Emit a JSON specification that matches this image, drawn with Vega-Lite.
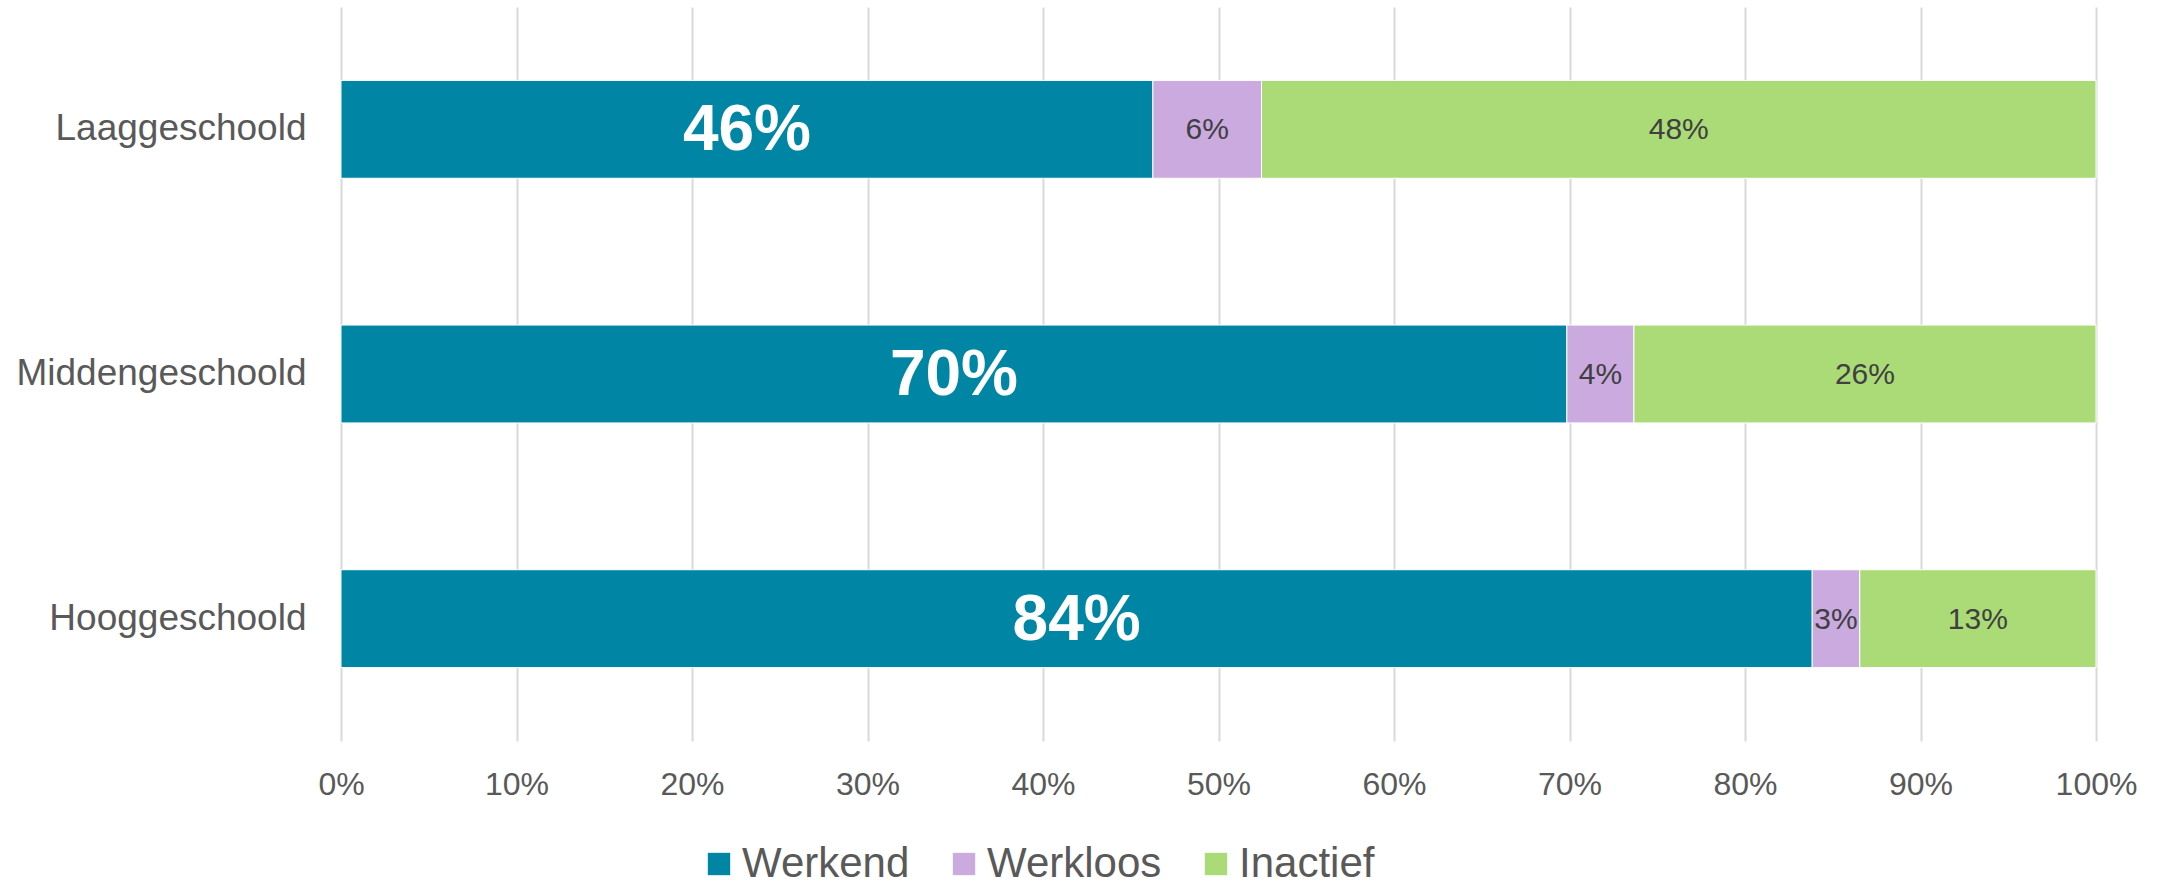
{
  "$schema": "https://vega.github.io/schema/vega-lite/v6.json",
  "autosize": "none",
  "width": 1755,
  "height": 734,
  "padding": {"left": 341, "top": 7, "right": 68, "bottom": 141},
  "background": "white",
  "config": {
    "view": {"stroke": null},
    "font": "Liberation Sans"
  },
  "data": {
    "values": [
      {"niveau": "Laaggeschoold", "status": "Werkend", "volgorde": 1, "aandeel": 0.4626},
      {"niveau": "Laaggeschoold", "status": "Werkloos", "volgorde": 2, "aandeel": 0.0619},
      {"niveau": "Laaggeschoold", "status": "Inactief", "volgorde": 3, "aandeel": 0.4755},
      {"niveau": "Middengeschoold", "status": "Werkend", "volgorde": 1, "aandeel": 0.6985},
      {"niveau": "Middengeschoold", "status": "Werkloos", "volgorde": 2, "aandeel": 0.0382},
      {"niveau": "Middengeschoold", "status": "Inactief", "volgorde": 3, "aandeel": 0.2633},
      {"niveau": "Hooggeschoold", "status": "Werkend", "volgorde": 1, "aandeel": 0.8383},
      {"niveau": "Hooggeschoold", "status": "Werkloos", "volgorde": 2, "aandeel": 0.0271},
      {"niveau": "Hooggeschoold", "status": "Inactief", "volgorde": 3, "aandeel": 0.1346}
    ]
  },
  "transform": [
    {"stack": "aandeel", "groupby": ["niveau"], "sort": [{"field": "volgorde", "order": "ascending"}], "as": ["a0", "a1"]},
    {"calculate": "(datum.a0 + datum.a1) / 2", "as": "midden"}
  ],
  "encoding": {
    "y": {
      "field": "niveau",
      "type": "nominal",
      "sort": ["Laaggeschoold", "Middengeschoold", "Hooggeschoold"],
      "scale": {"paddingInner": 0.6, "paddingOuter": 0.3},
      "axis": {
        "title": null,
        "domain": false,
        "ticks": false,
        "labelFontSize": 37,
        "labelColor": "#595959",
        "labelPadding": 35,
        "labelLimit": 0,
        "labelFont": "Liberation Sans"
      }
    }
  },
  "layer": [
    {
      "mark": {"type": "bar", "stroke": "white", "strokeWidth": 1},
      "encoding": {
        "x": {
          "field": "a0",
          "type": "quantitative",
          "scale": {"domain": [0, 1], "nice": false},
          "axis": {
            "title": null,
            "format": ".0%",
            "values": [0, 0.1, 0.2, 0.3, 0.4, 0.5, 0.6, 0.7, 0.8, 0.9, 1],
            "domain": false,
            "ticks": false,
            "grid": true,
            "gridColor": "#D9D9D9",
            "gridWidth": 2,
            "labelFontSize": 32,
            "labelColor": "#595959",
            "labelPadding": 28,
            "labelFlush": false,
            "labelOverlap": false,
            "labelFont": "Liberation Sans"
          }
        },
        "x2": {"field": "a1"},
        "color": {
          "field": "status",
          "type": "nominal",
          "sort": ["Werkend", "Werkloos", "Inactief"],
          "scale": {
            "domain": ["Werkend", "Werkloos", "Inactief"],
            "range": ["#0086A5", "#CBAAE0", "#ABDB77"]
          },
          "legend": {
            "title": null,
            "orient": "none",
            "direction": "horizontal",
            "legendX": 357,
            "legendY": 836,
            "symbolType": "square",
            "symbolSize": 500,
            "symbolStrokeWidth": 0,
            "labelFontSize": 42,
            "labelColor": "#595959",
            "labelFont": "Liberation Sans",
            "labelLimit": 0,
            "labelOffset": 2,
            "columnPadding": 33,
            "padding": 0,
            "encode": {
              "symbols": {
                "update": {
                  "fill": {"signal": "datum.value === 'Werkend' ? '#009AC4' : scale('color', datum.value)"},
                  "stroke": {"value": "transparent"}
                }
              }
            }
          }
        }
      }
    },
    {
      "transform": [{"filter": "datum.status === 'Werkend'"}],
      "mark": {"type": "text", "font": "Liberation Sans", "fontWeight": "bold", "fontSize": 64, "color": "white", "baseline": "middle", "dy": 2},
      "encoding": {
        "x": {"field": "midden", "type": "quantitative"},
        "text": {"field": "aandeel", "type": "quantitative", "format": ".0%"}
      }
    },
    {
      "transform": [{"filter": "datum.status !== 'Werkend'"}],
      "mark": {"type": "text", "font": "Liberation Sans", "fontSize": 30, "color": "#404040", "baseline": "middle", "dy": 1},
      "encoding": {
        "x": {"field": "midden", "type": "quantitative"},
        "text": {"field": "aandeel", "type": "quantitative", "format": ".0%"}
      }
    }
  ]
}
